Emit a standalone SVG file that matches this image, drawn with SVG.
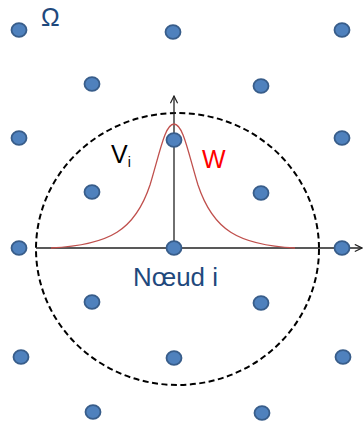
<svg xmlns="http://www.w3.org/2000/svg" width="363" height="424" viewBox="0 0 363 424">
<style>
.dot{fill:#4f81bd;stroke:#385d8a;stroke-width:1.8}
.ax{stroke:#222;stroke-width:1.3;fill:none}
.t{font-family:"Liberation Sans",Arial,sans-serif}
</style>
<defs>
<marker id="arr" viewBox="0 0 10 10" refX="9" refY="5" markerWidth="9" markerHeight="9" markerUnits="userSpaceOnUse" orient="auto">
<path d="M1,1 L9,5 L1,9" fill="none" stroke="#222" stroke-width="1.3"/>
</marker>
</defs>
<rect width="363" height="424" fill="#fff"/>
<g id="connectors">
<ellipse cx="177.5" cy="249" rx="141.5" ry="136" fill="none" stroke="#000" stroke-width="2" stroke-dasharray="6,3.5"/>
<line class="ax" x1="36" y1="248" x2="362" y2="248" marker-end="url(#arr)"/>
<line class="ax" x1="174" y1="248" x2="174" y2="96" marker-end="url(#arr)"/>
<path d="M51,248 C110,245 135,230 150,185 C160,152 165,124 174,124 C183,124 188,152 198,185 C213,230 238,245 295,248" fill="none" stroke="#c0504d" stroke-width="1.3"/>
</g>
<g id="nodes">
<g id="n1"><ellipse class="dot" cx="19" cy="30" rx="7.5" ry="6.8"/></g>
<g id="n2"><ellipse class="dot" cx="173" cy="32" rx="7.5" ry="6.8"/></g>
<g id="n3"><ellipse class="dot" cx="342" cy="30" rx="7.5" ry="6.8"/></g>
<g id="n4"><ellipse class="dot" cx="92" cy="84" rx="7.5" ry="6.8"/></g>
<g id="n5"><ellipse class="dot" cx="261" cy="86" rx="7.5" ry="6.8"/></g>
<g id="n6"><ellipse class="dot" cx="19" cy="138" rx="7.5" ry="6.8"/></g>
<g id="n7"><ellipse class="dot" cx="174" cy="140" rx="7.5" ry="6.8"/></g>
<g id="n8"><ellipse class="dot" cx="342" cy="138" rx="7.5" ry="6.8"/></g>
<g id="n9"><ellipse class="dot" cx="92" cy="192" rx="7.5" ry="6.8"/></g>
<g id="n10"><ellipse class="dot" cx="261" cy="193" rx="7.5" ry="6.8"/></g>
<g id="n11"><ellipse class="dot" cx="19" cy="248" rx="7.5" ry="6.8"/></g>
<g id="n12"><ellipse class="dot" cx="174" cy="248" rx="7.5" ry="6.8"/></g>
<g id="n13"><ellipse class="dot" cx="342" cy="248" rx="7.5" ry="6.8"/></g>
<g id="n14"><ellipse class="dot" cx="92" cy="302" rx="7.5" ry="6.8"/></g>
<g id="n15"><ellipse class="dot" cx="261" cy="303" rx="7.5" ry="6.8"/></g>
<g id="n16"><ellipse class="dot" cx="21" cy="357" rx="7.5" ry="6.8"/></g>
<g id="n17"><ellipse class="dot" cx="174" cy="358" rx="7.5" ry="6.8"/></g>
<g id="n18"><ellipse class="dot" cx="343" cy="357" rx="7.5" ry="6.8"/></g>
<g id="n19"><ellipse class="dot" cx="93" cy="412" rx="7.5" ry="6.8"/></g>
<g id="n20"><ellipse class="dot" cx="262" cy="413" rx="7.5" ry="6.8"/></g>
</g>
<g id="labels" class="t">
<text x="41" y="26" font-size="25" fill="#1f497d">Ω</text>
<text x="111" y="163" font-size="25" fill="#000">V<tspan font-size="14" dy="4">i</tspan></text>
<text x="202" y="168" font-size="25" fill="#ff0000">W</text>
<text x="133" y="286" font-size="26" fill="#1f497d" textLength="85" lengthAdjust="spacingAndGlyphs">Nœud i</text>
</g>
</svg>
